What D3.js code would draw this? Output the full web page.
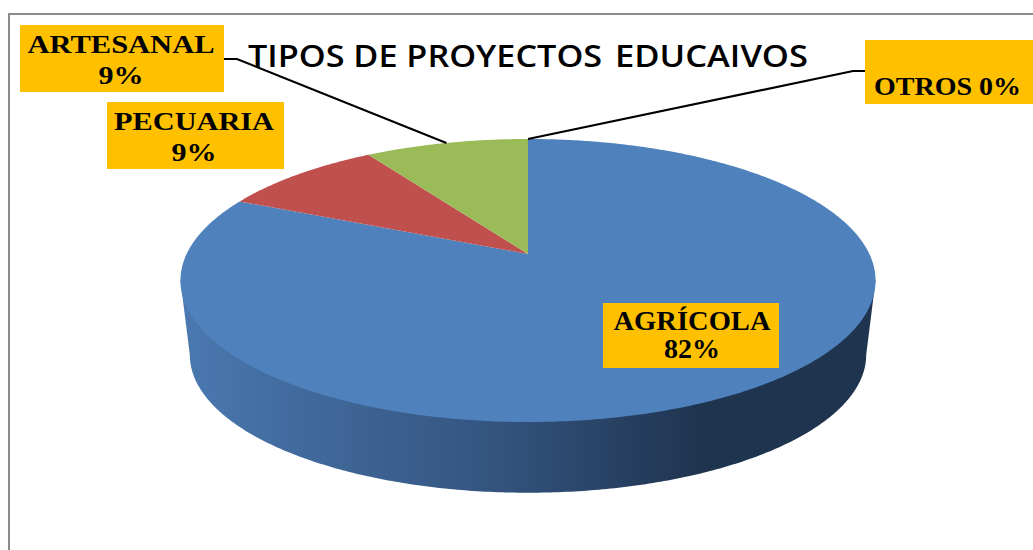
<!DOCTYPE html>
<html><head><meta charset="utf-8">
<script src="https://cdn.jsdelivr.net/npm/d3@7"></script>
<style>html,body{margin:0;padding:0;background:#fff;overflow:hidden}svg{display:block}</style>
</head><body><svg id="c" width="1033" height="550"></svg>
<script>
const categories = ["AGRÍCOLA", "PECUARIA", "ARTESANAL", "OTROS"];
const values = [81.8, 9.1, 9.1, 0];
const sliceColors = ["#4f81bd", "#c0504d", "#9bbb59", "#4f81bd"];
const titleWords = ["TIPOS DE PROYECTOS ", "EDUCAIVOS"];
const labelLines = [["AGRÍCOLA", "82%"], ["PECUARIA", "9%"], ["ARTESANAL", "9%"], ["OTROS 0%"]];
// label layout: box x,y,w,h then per-line baseline & rendered width
const labelLayout = [
  {x:603,y:303,w:176,h:65,cx:692,fs:28,base:[330,358],len:[157,56]},
  {x:107,y:102,w:177,h:67,cx:194,fs:26,base:[130,161],len:[160,45]},
  {x:20,y:25,w:204,h:67,cx:121,fs:26,base:[53,84],len:[187,45]},
  {x:865,y:40,w:168,h:64,cx:947.5,fs:25,base:[95],len:[147],elbow:[853,71],from:[865,71]}
];
labelLayout[2].elbow=[237,59]; labelLayout[2].from=[224,59];

const svg = d3.select("#c");
// perspective pie: homography from the unit circle on to the top face
const cx=528, apexY=254, persp=-0.1873, yGain=89, xGain=341.4;
const depthShift=74.5, depthScale=0.973;
function project(theta, depth=0){
  const x=Math.sin(theta), y=-Math.cos(theta), d=1+persp*y;
  const px=xGain*x/d, py=(yGain*y+apexY)/d;
  const s=depth?depthScale:1;
  return [cx+px*s, (280.5+(py-280.5)*s)+depth*depthShift];
}
const line=d3.line();
const sweep=(a,b,depth=0)=>{
  const n=Math.max(2,Math.ceil(Math.abs(b-a)/0.01));
  return d3.range(n+1).map(i=>project(a+(b-a)*i/n,depth));
};

const defs=svg.append("defs");
const g=defs.append("linearGradient").attr("id","side").attr("gradientUnits","userSpaceOnUse")
  .attr("x1",181).attr("x2",876).attr("y1",0).attr("y2",0);
[[0,"#4a79b0"],[0.15,"#426c9f"],[0.45,"#34547f"],[0.75,"#1f344f"],[1,"#1f344f"]]
  .forEach(([o,c])=>g.append("stop").attr("offset",o).attr("stop-color",c));

// frame
svg.append("path").attr("d","M9,550V14H1033").attr("fill","none").attr("stroke","#8c8c8c").attr("stroke-width",2);

// side wall
const wide=Math.acos(persp); // circle angle of the widest point
const wall=[project(wide),...sweep(wide,2*Math.PI-wide,1),project(2*Math.PI-wide)];
svg.append("path").attr("d",line(wall)+"Z").attr("fill","url(#side)");

// top face
const arcs=d3.pie().sort(null).value(d=>d)(values);
svg.selectAll("path.slice").data(arcs).join("path").attr("class","slice")
  .attr("d",a=>line([[cx,apexY],...sweep(a.startAngle,a.endAngle)])+"Z")
  .attr("fill",(a,i)=>sliceColors[i]);

// title
const title=svg.append("text").attr("y",67).attr("font-family","'Open Sans'").attr("font-weight",600)
  .attr("font-size",30).attr("fill","#000").style("white-space","pre");
title.append("tspan").attr("x",248).attr("textLength",363).attr("lengthAdjust","spacingAndGlyphs").text(titleWords[0]);
title.append("tspan").attr("x",615).attr("textLength",193).attr("lengthAdjust","spacingAndGlyphs").text(titleWords[1]);

// leader lines
arcs.forEach((a,i)=>{
  const L=labelLayout[i]; if(!L.elbow) return;
  const p=project((a.startAngle+a.endAngle)/2);
  svg.append("path").attr("d",line([L.from,L.elbow,p])).attr("fill","none").attr("stroke","#000").attr("stroke-width",2.2);
});

// labels
labelLayout.forEach((L,i)=>{
  svg.append("rect").attr("x",L.x).attr("y",L.y).attr("width",L.w).attr("height",L.h).attr("fill","#ffc000");
  labelLines[i].forEach((t,j)=>{
    svg.append("text").attr("x",L.cx).attr("y",L.base[j]).attr("text-anchor","middle")
      .attr("font-family","'Liberation Serif'").attr("font-weight",700).attr("font-size",L.fs).attr("fill","#000")
      .attr("textLength",L.len[j]).attr("lengthAdjust","spacingAndGlyphs").text(t);
  });
});
</script></body></html>
